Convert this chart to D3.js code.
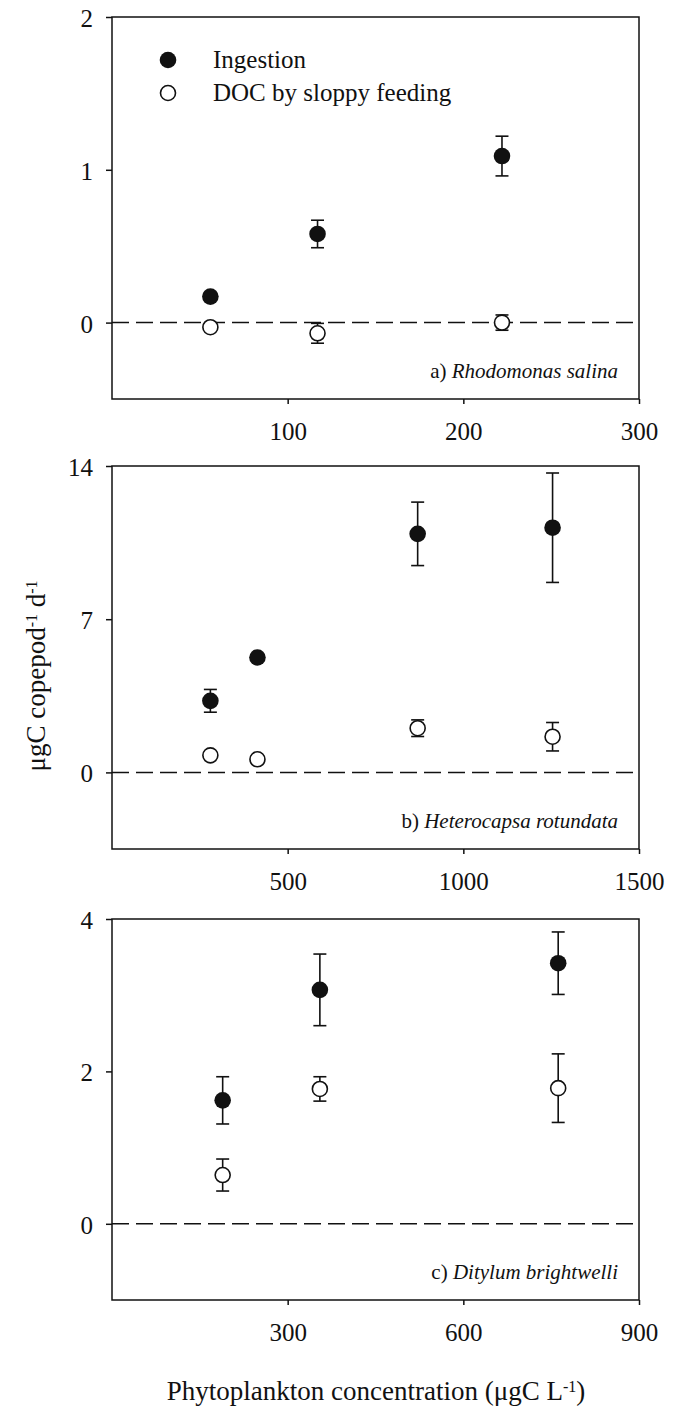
<!DOCTYPE html>
<html>
<head>
<meta charset="utf-8">
<script src="https://cdn.jsdelivr.net/npm/d3@7/dist/d3.min.js"></script>
<style>
  html, body { margin: 0; padding: 0; background: #fff; }
  svg { display: block; }
  text { font-family: "Liberation Serif", "Times New Roman", serif; fill: #111; }
</style>
</head>
<body>
<script>
// ---------- data ----------
const seriesNames = ["Ingestion", "DOC by sloppy feeding"];

// a) Rhodomonas salina
const aConc      = [56, 117, 222];
const aIngest    = [0.17, 0.58, 1.09];
const aIngestErr = [0, 0.09, 0.13];
const aDoc       = [-0.03, -0.07, 0.0];
const aDocErr    = [0, 0.065, 0.05];
const aXTicks = [100, 200, 300];
const aYTicks = [0, 1, 2];
const aXDomain = [0, 300];
const aYDomain = [-0.5, 2];

// b) Heterocapsa rotundata
const bConc      = [280, 414, 870, 1254];
const bIngest    = [3.27, 5.25, 10.9, 11.18];
const bIngestErr = [0.52, 0, 1.45, 2.5];
const bDoc       = [0.78, 0.60, 2.02, 1.63];
const bDocErr    = [0, 0, 0.38, 0.65];
const bXTicks = [500, 1000, 1500];
const bYTicks = [0, 7, 14];
const bXDomain = [0, 1500];
const bYDomain = [-3.5, 14];

// c) Ditylum brightwelli
const cConc      = [189, 355, 762];
const cIngest    = [1.62, 3.07, 3.42];
const cIngestErr = [0.31, 0.47, 0.41];
const cDoc       = [0.64, 1.77, 1.78];
const cDocErr    = [0.21, 0.16, 0.45];
const cXTicks = [300, 600, 900];
const cYTicks = [0, 2, 4];
const cXDomain = [0, 900];
const cYDomain = [-1, 4];

const panelLetters = ["a)", "b)", "c)"];
const panelSpecies = ["Rhodomonas salina", "Heterocapsa rotundata", "Ditylum brightwelli"];

// ---------- layout ----------
const W = 683, H = 1410;
const left = 112, right = 639;
const frames = [ {top: 17, bottom: 399}, {top: 466, bottom: 849}, {top: 919, bottom: 1300} ];

const panels = [
  {conc: aConc, ing: aIngest, ingErr: aIngestErr, doc: aDoc, docErr: aDocErr, xt: aXTicks, yt: aYTicks, xd: aXDomain, yd: aYDomain},
  {conc: bConc, ing: bIngest, ingErr: bIngestErr, doc: bDoc, docErr: bDocErr, xt: bXTicks, yt: bYTicks, xd: bXDomain, yd: bYDomain},
  {conc: cConc, ing: cIngest, ingErr: cIngestErr, doc: cDoc, docErr: cDocErr, xt: cXTicks, yt: cYTicks, xd: cXDomain, yd: cYDomain}
];

const svg = d3.select("body").append("svg").attr("width", W).attr("height", H);
svg.append("rect").attr("width", W).attr("height", H).attr("fill", "#fff");

const R = 8.3;
const capHalf = 6.5;
const stroke = "#111";

panels.forEach((p, i) => {
  const f = frames[i];
  const x = d3.scaleLinear().domain(p.xd).range([left, right]);
  const y = d3.scaleLinear().domain(p.yd).range([f.bottom, f.top]);
  const g = svg.append("g");

  // x axis
  const xa = g.append("g").attr("transform", `translate(0,${f.bottom})`)
    .call(d3.axisBottom(x).tickValues(p.xt).tickSize(5).tickFormat(d3.format("d")));
  xa.select(".domain").remove();
  xa.selectAll("line").attr("stroke", stroke).attr("stroke-width", 1.5);
  xa.selectAll("text").attr("y", 41).attr("dy", null)
    .style("font-size", "25px").style("font-family", '"Liberation Serif", serif').attr("fill", "#111");

  // y axis
  const ya = g.append("g").attr("transform", `translate(${left},0)`)
    .call(d3.axisLeft(y).tickValues(p.yt).tickSize(6).tickFormat(d3.format("d")));
  ya.select(".domain").remove();
  ya.selectAll("line").attr("stroke", stroke).attr("stroke-width", 1.5);
  ya.selectAll("text").attr("x", -19).attr("dy", "0.38em")
    .style("font-size", "25px").style("font-family", '"Liberation Serif", serif').attr("fill", "#111");

  // frame
  g.append("rect").attr("x", left).attr("y", f.top)
    .attr("width", right - left).attr("height", f.bottom - f.top)
    .attr("fill", "none").attr("stroke", stroke).attr("stroke-width", 1.5);

  // zero line
  g.append("line").attr("x1", left).attr("x2", right)
    .attr("y1", y(0)).attr("y2", y(0))
    .attr("stroke", stroke).attr("stroke-width", 1.5).attr("stroke-dasharray", "17,7");

  // error bars
  const drawErr = (vals, errs) => {
    vals.forEach((v, k) => {
      const e = errs[k];
      if (!e) return;
      const cx = x(p.conc[k]);
      const y1 = y(v + e), y2 = y(v - e);
      g.append("line").attr("x1", cx).attr("x2", cx).attr("y1", y1).attr("y2", y2)
        .attr("stroke", stroke).attr("stroke-width", 1.6);
      [y1, y2].forEach(yy => g.append("line").attr("x1", cx - capHalf).attr("x2", cx + capHalf)
        .attr("y1", yy).attr("y2", yy).attr("stroke", stroke).attr("stroke-width", 1.6));
    });
  };
  drawErr(p.ing, p.ingErr);
  drawErr(p.doc, p.docErr);

  // markers
  g.selectAll(".ing").data(p.ing).enter().append("circle")
    .attr("cx", (d, k) => x(p.conc[k])).attr("cy", d => y(d)).attr("r", R)
    .attr("fill", "#111");
  g.selectAll(".doc").data(p.doc).enter().append("circle")
    .attr("cx", (d, k) => x(p.conc[k])).attr("cy", d => y(d)).attr("r", R - 0.8)
    .attr("fill", "#fff").attr("stroke", stroke).attr("stroke-width", 1.6);

  // panel label
  const t = g.append("text").attr("x", right - 21).attr("y", f.bottom - 21)
    .attr("text-anchor", "end").style("font-size", "21px");
  t.append("tspan").text(panelLetters[i] + " ");
  t.append("tspan").attr("font-style", "italic").text(panelSpecies[i]);

  // legend (panel a only)
  if (i === 0) {
    const lg = g.append("g");
    lg.append("circle").attr("cx", 168).attr("cy", 60).attr("r", R).attr("fill", "#111");
    lg.append("circle").attr("cx", 168).attr("cy", 93).attr("r", R - 0.8)
      .attr("fill", "#fff").attr("stroke", stroke).attr("stroke-width", 1.6);
    lg.append("text").attr("x", 213).attr("y", 68).style("font-size", "25px").text(seriesNames[0]);
    lg.append("text").attr("x", 213).attr("y", 101).style("font-size", "25px").text(seriesNames[1]);
  }
});

// y title
const yt = svg.append("text")
  .attr("transform", "translate(45,676) rotate(-90)")
  .attr("text-anchor", "middle").style("font-size", "27px");
yt.append("tspan").text("μgC copepod");
yt.append("tspan").attr("baseline-shift", "super").style("font-size", "16px").text("-1");
yt.append("tspan").text(" d");
yt.append("tspan").attr("baseline-shift", "super").style("font-size", "16px").text("-1");

// x title
const xt = svg.append("text").attr("x", 376).attr("y", 1400)
  .attr("text-anchor", "middle").style("font-size", "27px");
xt.append("tspan").text("Phytoplankton concentration (μgC L");
xt.append("tspan").attr("baseline-shift", "super").style("font-size", "16px").text("-1");
xt.append("tspan").text(")");
</script>
</body>
</html>
